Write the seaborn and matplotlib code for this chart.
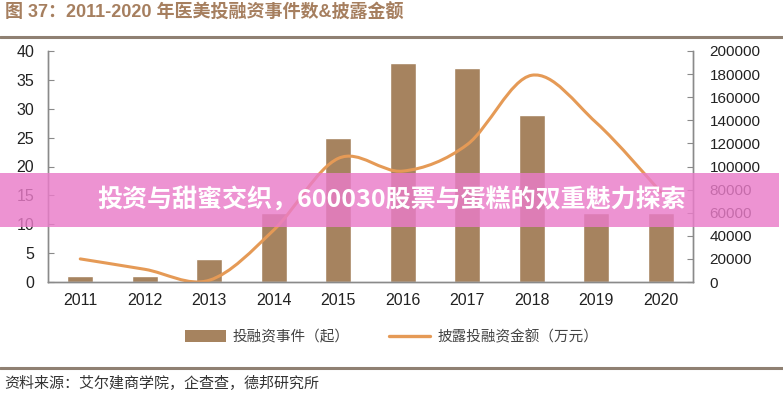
import numpy as np
import pandas as pd
import matplotlib
matplotlib.use('Agg')
import matplotlib.pyplot as plt
import seaborn as sns
from matplotlib.path import Path
from matplotlib.patches import PathPatch, Patch, Rectangle
from matplotlib.lines import Line2D

# data
years = ['2011', '2012', '2013', '2014', '2015', '2016', '2017', '2018', '2019', '2020']
deal_counts = [1, 1, 4, 12, 25, 38, 37, 29, 12, 12]
deal_amounts = [20000, 11000, 1500, 45000, 107000, 96000, 119000, 179000, 138000, 78000]

title_text = '图 37：2011-2020 年医美投融资事件数&披露金额'
source_text = '资料来源：艾尔建商学院，企查查，德邦研究所'
banner_text = '投资与甜蜜交织，600030股票与蛋糕的双重魅力探索'
bar_label = '投融资事件（起）'
line_label = '披露投融资金额（万元）'

BAR_C = '#a6835f'
LINE_C = '#e59a56'
AXIS_C = '#8a8a8a'

sns.set_style('white')
plt.rcParams['font.family'] = ['Liberation Sans', 'Noto Sans CJK SC', 'DejaVu Sans']

df = pd.DataFrame({'year': years, 'count': deal_counts, 'amount': deal_amounts})

fig = plt.figure(figsize=(7.83, 4.0), dpi=100)
ax = fig.add_axes([0.0613, 0.295, 0.8237, 0.5775])

sns.barplot(data=df, x='year', y='count', color=BAR_C, width=0.4,
            saturation=1, ax=ax)
ax.set_xlim(-0.5, 9.5)
ax.set_ylim(0, 40)
ax.set_yticks(range(0, 41, 5))
ax.set_xlabel('')
ax.set_ylabel('')

ax2 = ax.twinx()
ax2.set_ylim(0, 200000)
ax2.set_yticks(range(0, 200001, 20000))

# smoothed line (Catmull-Rom as cubic bezier through the data points)
xs = np.arange(len(years), dtype=float)
ys = np.array(deal_amounts, dtype=float)
pts = np.column_stack([xs, ys])
verts = [pts[0]]
codes = [Path.MOVETO]
n = len(pts)
for i in range(n - 1):
    p0 = pts[max(i - 1, 0)]
    p1 = pts[i]
    p2 = pts[i + 1]
    p3 = pts[min(i + 2, n - 1)]
    c1 = p1 + (p2 - p0) / 6.0
    c2 = p2 - (p3 - p1) / 6.0
    verts += [c1, c2, p2]
    codes += [Path.CURVE4] * 3
ax2.add_patch(PathPatch(Path(verts, codes), facecolor='none', edgecolor=LINE_C,
                        lw=2.2, capstyle='round', clip_on=True))

for a in (ax, ax2):
    a.spines['top'].set_visible(False)
    for s in ('left', 'right', 'bottom'):
        a.spines[s].set_color(AXIS_C)
        a.spines[s].set_linewidth(1.0)
    a.grid(False)

ax.tick_params(axis='y', direction='in', length=4, color=AXIS_C, labelsize=11.5,
               labelcolor='#222222', pad=10)
ax2.tick_params(axis='y', direction='in', length=4, color=AXIS_C, labelsize=11,
                labelcolor='#222222', pad=12)
ax.tick_params(axis='x', length=0, labelsize=11.5, labelcolor='#222222', pad=8)
# category boundary ticks on x axis
ax.set_xticks(np.arange(0.5, 9.5, 1.0), minor=True)
ax.tick_params(axis='x', which='minor', direction='in', length=4, color=AXIS_C)

# legend
handles = [Patch(facecolor=BAR_C, edgecolor='none'),
           Line2D([0], [0], color=LINE_C, lw=2.4)]
fig.legend(handles, [bar_label, line_label], loc='center', bbox_to_anchor=(0.5, 0.157),
           ncol=2, frameon=False, columnspacing=2.7, handlelength=2.8,
           handleheight=0.9, handletextpad=0.5, labelcolor='#444444',
           prop={'family': ['Noto Sans CJK SC'], 'size': 10.5})

# header / footer
fig.text(0.006, 0.968, title_text, ha='left', va='center', fontsize=13,
         fontweight='bold', color='#a67f5f')
fig.add_artist(Line2D([0, 1], [0.907, 0.907], color='#8f8072', lw=2.2))
fig.add_artist(Line2D([0, 1], [0.08, 0.08], color='#8f8072', lw=2.2))
fig.text(0.006, 0.042, source_text, ha='left', va='center', fontsize=10.8,
         color='#333333')

# overlay banner
fig.add_artist(Rectangle((0, 0.432), 0.995, 0.135, transform=fig.transFigure,
                         facecolor='#ea7cc9', alpha=0.82, edgecolor='none', zorder=10))
fig.text(0.5, 0.5, banner_text, ha='center', va='center', fontsize=18,
         fontweight='bold', color='white', zorder=11,
         family=['Noto Sans CJK SC', 'DejaVu Sans'])

fig.savefig('out.png', dpi=100)
